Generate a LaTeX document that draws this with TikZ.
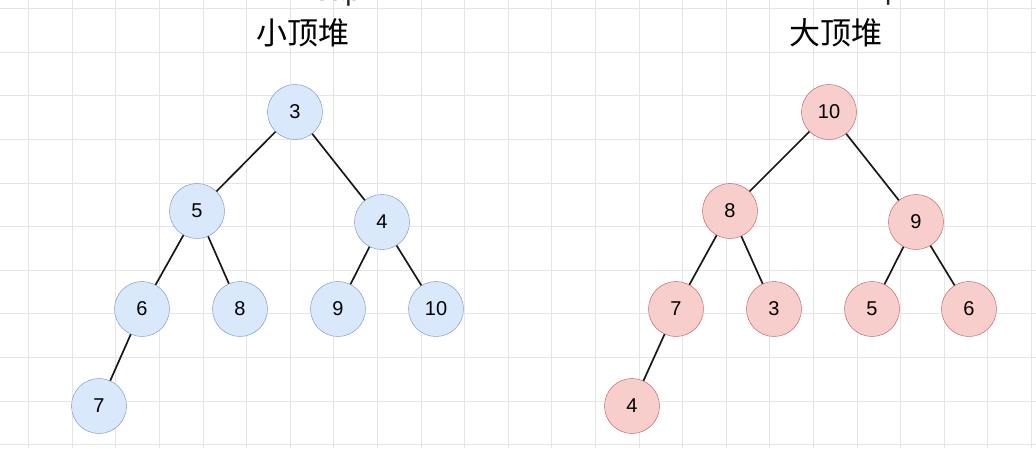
\documentclass[tikz,border=0pt]{standalone}
\usepackage{fontspec}
\setmainfont{Liberation Sans}
\newfontfamily\cjk{Noto Sans CJK SC}
\definecolor{minfill}{HTML}{DAE8FC}
\definecolor{mindraw}{HTML}{6C8EBF}
\definecolor{maxfill}{HTML}{F8CECC}
\definecolor{maxdraw}{HTML}{B85450}
\begin{document}
\begin{tikzpicture}[x=1pt,y=-1pt,
  minn/.style={circle,draw=mindraw,fill=minfill,minimum size=55pt,inner sep=0pt,font=\fontsize{20}{20}\selectfont},
  maxn/.style={circle,draw=maxdraw,fill=maxfill,minimum size=55pt,inner sep=0pt,font=\fontsize{20}{20}\selectfont},
  edge/.style={line width=1.7pt,black!90},
  ttl/.style={font=\cjk\fontsize{31}{31}\selectfont},
  ettl/.style={font=\fontsize{28}{28}\selectfont}]
\useasboundingbox (0,0) rectangle (1036,448);
\clip (0,0) rectangle (1036,448);
\fill[white] (0,0) rectangle (1036,448);
\foreach \i in {0,...,23} \draw[black!10,line width=0.8pt] (28.5+43.6*\i,0) -- (28.5+43.6*\i,448);
\foreach \j in {0,...,10} \draw[black!10,line width=0.8pt] (0,8.5+43.6*\j) -- (1036,8.5+43.6*\j);
\node[ettl,black!85] (e1) at (301,-7) {Min Heap};
\node[ttl] (t1) at (303,33) {小顶堆};
\node[ettl,black!85] (e2) at (837,-7) {Max Heap};
\node[ttl] (t2) at (836,33) {大顶堆};
\node[minn] (a3) at (295,112) {3};
\node[minn] (a5) at (197,211) {5};
\node[minn] (a4) at (382,222) {4};
\node[minn] (a6) at (142,309) {6};
\node[minn] (a8) at (240,309) {8};
\node[minn] (a9) at (338,309) {9};
\node[minn] (a10) at (436,309) {10};
\node[minn] (a7) at (99,406) {7};
\draw[edge] (a3) -- (a5); \draw[edge] (a3) -- (a4);
\draw[edge] (a5) -- (a6); \draw[edge] (a5) -- (a8);
\draw[edge] (a4) -- (a9); \draw[edge] (a4) -- (a10);
\draw[edge] (a6) -- (a7);
\node[maxn] (b10) at (829,112) {10};
\node[maxn] (b8) at (730,211) {8};
\node[maxn] (b9) at (916,222) {9};
\node[maxn] (b7) at (676,309) {7};
\node[maxn] (b3) at (774,309) {3};
\node[maxn] (b5) at (872,309) {5};
\node[maxn] (b6) at (969,309) {6};
\node[maxn] (b4) at (632,406) {4};
\draw[edge] (b10) -- (b8); \draw[edge] (b10) -- (b9);
\draw[edge] (b8) -- (b7); \draw[edge] (b8) -- (b3);
\draw[edge] (b9) -- (b5); \draw[edge] (b9) -- (b6);
\draw[edge] (b7) -- (b4);
\end{tikzpicture}
\end{document}
